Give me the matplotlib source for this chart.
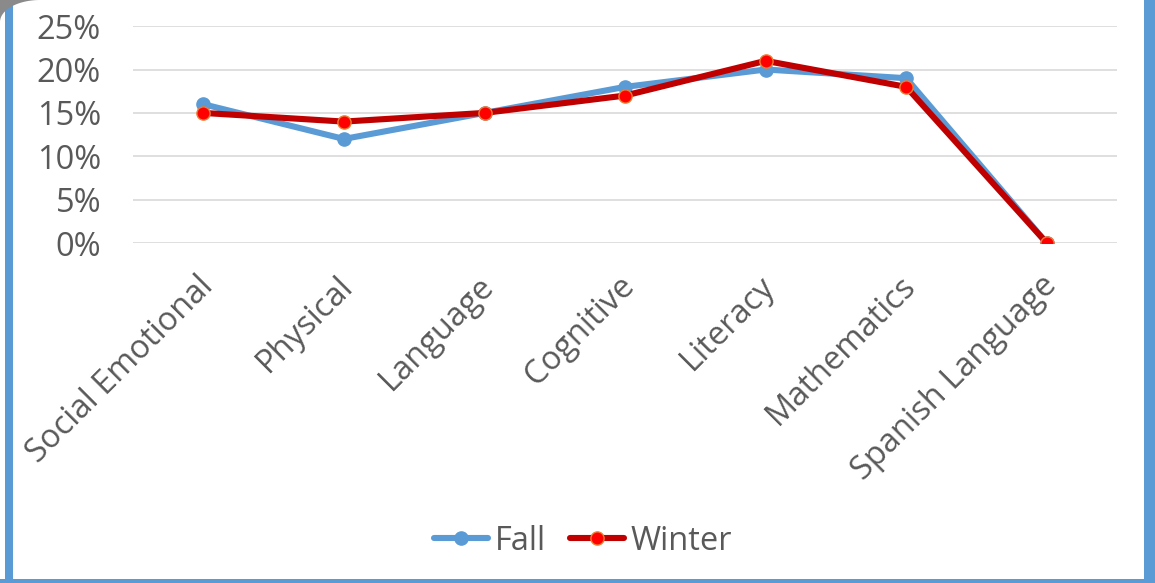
import numpy as np
import matplotlib.pyplot as plt
import matplotlib.transforms as mtransforms
from matplotlib.patches import Rectangle, Polygon

categories = ['Social Emotional', 'Physical', 'Language', 'Cognitive',
              'Literacy', 'Mathematics', 'Spanish Language']
fall = [0.16, 0.12, 0.15, 0.18, 0.20, 0.19, 0.0]
winter = [0.15, 0.14, 0.15, 0.17, 0.21, 0.18, 0.0]
yticks = [0, 0.05, 0.10, 0.15, 0.20, 0.25]
ytick_labels = ['0%', '5%', '10%', '15%', '20%', '25%']

plt.rcParams['font.family'] = ['Open Sans', 'DejaVu Sans']
text_col = '#595959'
fs = 23.5

fig = plt.figure(figsize=(11.55, 5.83), dpi=100)
ax = fig.add_axes([0.1152, 0.583, 0.852, 0.3722])

x = np.arange(len(categories))
ax.plot(x, fall, color='#5B9BD5', lw=4.4, marker='o', ms=9.5,
        mfc='#5B9BD5', mec='#5B9BD5', label='Fall', zorder=3,
        solid_capstyle='round')
ax.plot(x, winter, color='#C00000', lw=4.4, marker='o', ms=9.5,
        mfc='#FF0000', mec='#ED7D31', mew=1.0, label='Winter', zorder=4,
        solid_capstyle='round')

ax.set_xlim(-0.5, len(categories) - 0.5)
ax.set_ylim(0, 0.25)
ax.set_yticks(yticks)
ax.set_yticklabels(ytick_labels)
ax.set_xticks(x)
ax.set_xticklabels(categories, rotation=45, ha='right', rotation_mode='anchor')
ax.tick_params(axis='both', length=0, labelsize=fs, colors=text_col)
ax.tick_params(axis='x', pad=24)
ax.tick_params(axis='y', pad=23)
ax.grid(axis='y', color='#D9D9D9', lw=1.2)
ax.set_axisbelow(True)
for s in ax.spines.values():
    s.set_visible(False)

# nudge the slanted labels a little up and left
shift = mtransforms.ScaledTranslation(-7 / 100, 7 / 100, fig.dpi_scale_trans)
for lab in ax.get_xticklabels():
    lab.set_transform(lab.get_transform() + shift)

leg = fig.legend(loc='center', bbox_to_anchor=(0.505, 0.072), ncol=2,
                 frameon=False, fontsize=fs, handlelength=1.65,
                 handletextpad=0.2, columnspacing=0.75)
for t in leg.get_texts():
    t.set_color(text_col)

# blue frame around the chart
blue = '#5B9BD5'
fig.add_artist(Rectangle((5 / 1155, 0), 8 / 1155, 1, transform=fig.transFigure,
                         color=blue, lw=0))
fig.add_artist(Rectangle((1144 / 1155, 0), 11 / 1155, 1, transform=fig.transFigure,
                         color=blue, lw=0))
fig.add_artist(Rectangle((0, 0), 1, 4 / 583, transform=fig.transFigure,
                         color=blue, lw=0))

# page curl in the corner
t = np.linspace(0, np.pi / 2, 30)
pts = [(0, 1), (0, 1 - 22 / 583)] + [(40 * (1 - np.cos(a)) / 1155, 1 - 22 * (1 - np.sin(a)) / 583) for a in t]
fig.add_artist(Polygon(pts, closed=True, transform=fig.transFigure,
                       color='#8a8a8a', lw=0))

fig.savefig('out.png', dpi=100)
